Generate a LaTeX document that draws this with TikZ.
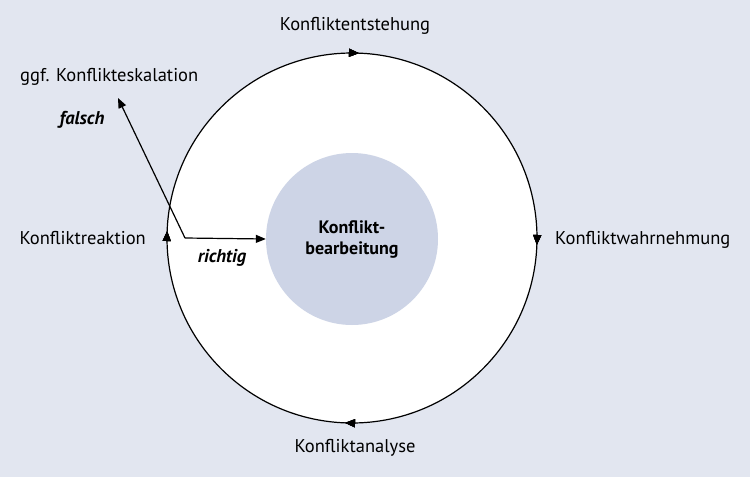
\documentclass[tikz,border=0pt]{standalone}
\usepackage{fontspec}
\setmainfont{PT Sans}
\usetikzlibrary{arrows.meta,decorations.markings}
\definecolor{bg}{HTML}{E2E6F0}
\definecolor{inner}{HTML}{CDD4E6}
\begin{document}
\begin{tikzpicture}[x=1pt,y=-1pt,
  lbl/.style={font=\fontsize{18.5}{22}\selectfont, inner sep=0pt},
  tag/.style={font=\fontsize{18.5}{22}\selectfont\bfseries\itshape, inner sep=0pt},
  arr/.style={-{Triangle[length=10pt,width=8pt]}, line width=1.2pt},
  tip/.style={decoration={markings, mark=at position #1 with {\arrow{Triangle[length=10pt,width=8pt]}}}, postaction=decorate}]
\fill[bg] (0,0) rectangle (750,477);
\useasboundingbox (0,0) rectangle (750,477);
% outer cycle
\fill[white] (352,238) circle (185);
\draw[line width=1.2pt, tip=0.131, tip=0.381, tip=0.631, tip=0.881]
  (352,238) ++(-135:185) arc[start angle=-135, end angle=225, radius=185];
% inner circle
\node[circle, fill=inner, minimum size=172pt, inner sep=0pt, align=center,
      font=\fontsize{18}{21}\selectfont\bfseries] (core) at (352,239) {Konflikt-\\bearbeitung};
% labels
\node[lbl] (entst) at (355,26) {Konfliktentstehung};
\node[lbl, anchor=west] (wahr) at (555,240) {Konfliktwahrnehmung};
\node[lbl] (anal) at (355,448) {Konfliktanalyse};
\node[lbl, anchor=east] (reak) at (146,238) {Konfliktreaktion};
\node[lbl, anchor=west] (eskal) at (20,77) {ggf. Konflikteskalation};
\node[tag] (falsch) at (82,120) {falsch};
\node[tag] (richtig) at (222,258) {richtig};
% decision arrows
\coordinate (kink) at (185,238);
\coordinate (esktip) at (118,98);
\draw[arr] (kink) -- (core.west);
\draw[arr] (kink) -- (esktip);
\end{tikzpicture}
\end{document}
